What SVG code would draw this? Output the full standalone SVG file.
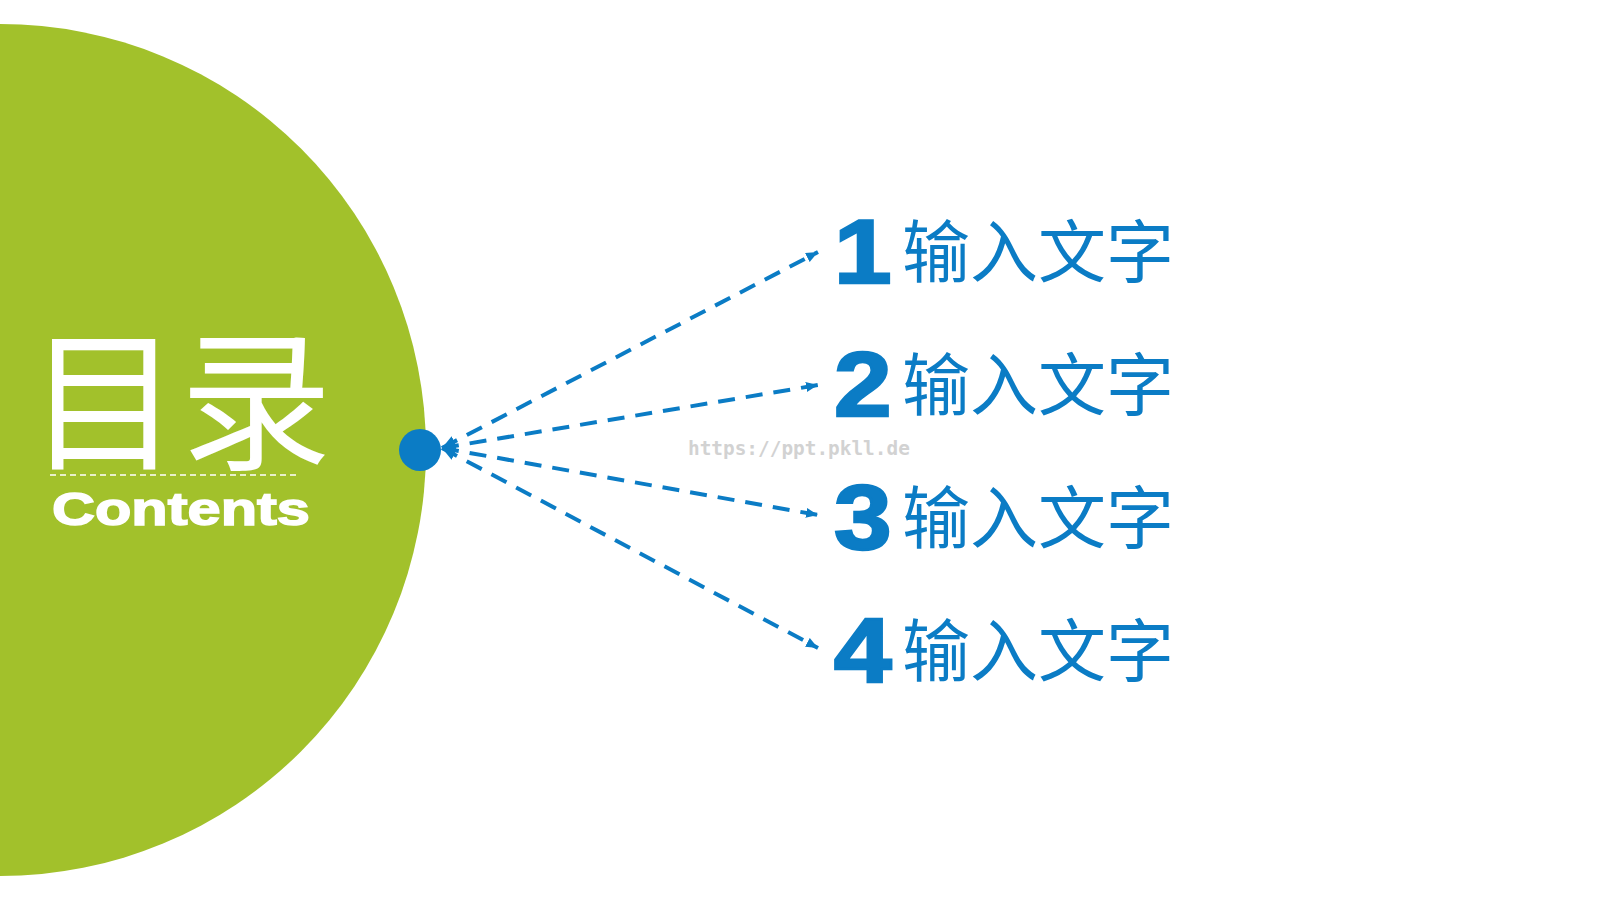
<svg xmlns="http://www.w3.org/2000/svg" width="1600" height="900" viewBox="0 0 1600 900">
  <style>
    .conn { fill: none; stroke: #0b7cc5; stroke-width: 4; stroke-dasharray: 17 11; marker-start: url(#arrS); marker-end: url(#arrE); }
    .num { font-family: "Liberation Sans", Arial, sans-serif; font-weight: bold; font-size: 90px; fill: #0b7cc5; stroke: #0b7cc5; stroke-width: 2.5; }
    .lbl { font-family: "Noto Sans CJK SC", "Noto Sans", sans-serif; font-size: 68px; font-weight: 400; fill: #0b7cc5; }
  </style>
  <defs>
    <marker id="arrE" markerUnits="userSpaceOnUse" viewBox="0 0 12 10" refX="12" refY="5" markerWidth="12" markerHeight="10" orient="auto">
      <path d="M0,0 L12,5 L0,10 Z" fill="#0b7cc5"/>
    </marker>
    <marker id="arrS" markerUnits="userSpaceOnUse" viewBox="0 0 14 12" refX="14" refY="6" markerWidth="14" markerHeight="12" orient="auto-start-reverse">
      <path d="M0,0 L14,6 L0,12 Z" fill="#0b7cc5"/>
    </marker>
  </defs>
  <rect width="1600" height="900" fill="#ffffff"/>

  <g id="title-circle">
    <circle cx="0" cy="450" r="426" fill="#a2c12b"/>
    <text x="28" y="458" font-family="'Noto Sans CJK SC', 'Noto Sans', sans-serif" font-size="152" font-weight="400" fill="#ffffff">目录</text>
    <line x1="50" y1="475" x2="300" y2="475" stroke="#ffffff" stroke-width="1.5" stroke-dasharray="6 4"/>
    <text x="52" y="525" font-family="'Liberation Sans', Arial, sans-serif" font-weight="bold" font-size="46" fill="#ffffff" stroke="#ffffff" stroke-width="1.5" textLength="258" lengthAdjust="spacingAndGlyphs">Contents</text>
  </g>

  <g id="connectors">
    <line class="conn" x1="442" y1="448" x2="818" y2="252"/>
    <line class="conn" x1="442" y1="448" x2="818" y2="385"/>
    <line class="conn" x1="442" y1="448" x2="818" y2="515"/>
    <line class="conn" x1="442" y1="448" x2="818" y2="648"/>
  </g>

  <g id="hub">
    <circle cx="420" cy="450" r="21" fill="#0b7cc5"/>
  </g>

  <text x="688" y="455" font-family="'DejaVu Sans Mono', monospace" font-size="19.4" font-weight="bold" fill="#d2d2d2">https://ppt.pkll.de</text>

  <g id="item1">
    <text class="num" transform="translate(834 283) scale(1.15 1)">1</text>
    <text class="lbl" x="902" y="277">输入文字</text>
  </g>
  <g id="item2">
    <text class="num" transform="translate(834 416) scale(1.15 1)">2</text>
    <text class="lbl" x="902" y="410">输入文字</text>
  </g>
  <g id="item3">
    <text class="num" transform="translate(834 549) scale(1.15 1)">3</text>
    <text class="lbl" x="902" y="543">输入文字</text>
  </g>
  <g id="item4">
    <text class="num" transform="translate(834 682) scale(1.15 1)">4</text>
    <text class="lbl" x="902" y="676">输入文字</text>
  </g>
</svg>
